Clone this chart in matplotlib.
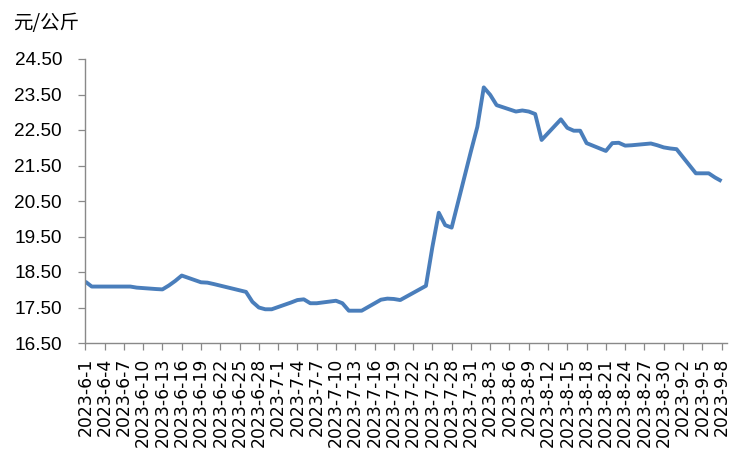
import matplotlib
matplotlib.use("Agg")
import matplotlib.pyplot as plt
import matplotlib.dates as mdates
import pandas as pd

# ---- data ----
dates = [
    "2023-06-01", "2023-06-02", "2023-06-05", "2023-06-06", "2023-06-07", "2023-06-08",
    "2023-06-09", "2023-06-12", "2023-06-13", "2023-06-14", "2023-06-15", "2023-06-16",
    "2023-06-19", "2023-06-20", "2023-06-21", "2023-06-26", "2023-06-27", "2023-06-28",
    "2023-06-29", "2023-06-30", "2023-07-03", "2023-07-04", "2023-07-05", "2023-07-06",
    "2023-07-07", "2023-07-10", "2023-07-11", "2023-07-12", "2023-07-13", "2023-07-14",
    "2023-07-17", "2023-07-18", "2023-07-19", "2023-07-20", "2023-07-21", "2023-07-24",
    "2023-07-25", "2023-07-26", "2023-07-27", "2023-07-28", "2023-07-31", "2023-08-01",
    "2023-08-02", "2023-08-03", "2023-08-04", "2023-08-07", "2023-08-08", "2023-08-09",
    "2023-08-10", "2023-08-11", "2023-08-14", "2023-08-15", "2023-08-16", "2023-08-17",
    "2023-08-18", "2023-08-21", "2023-08-22", "2023-08-23", "2023-08-24", "2023-08-25",
    "2023-08-28", "2023-08-29", "2023-08-30", "2023-08-31", "2023-09-01", "2023-09-04",
    "2023-09-05", "2023-09-06", "2023-09-07", "2023-09-08",
]
prices = [
    18.23, 18.09, 18.09, 18.09, 18.09, 18.09,
    18.06, 18.02, 18.01, 18.12, 18.25, 18.40,
    18.21, 18.20, 18.16, 17.94, 17.66, 17.50,
    17.45, 17.45, 17.64, 17.71, 17.73, 17.62,
    17.62, 17.69, 17.62, 17.41, 17.41, 17.41,
    17.72, 17.75, 17.74, 17.71, 17.81, 18.11,
    19.20, 20.17, 19.82, 19.75, 21.90, 22.59,
    23.70, 23.49, 23.20, 23.02, 23.05, 23.02,
    22.95, 22.22, 22.80, 22.56, 22.48, 22.48,
    22.13, 21.91, 22.13, 22.14, 22.06, 22.07,
    22.12, 22.07, 22.01, 21.98, 21.96, 21.28,
    21.28, 21.28, 21.16, 21.06,
]
tick_dates = [
    "2023-06-01", "2023-06-04", "2023-06-07", "2023-06-10", "2023-06-13", "2023-06-16",
    "2023-06-19", "2023-06-22", "2023-06-25", "2023-06-28", "2023-07-01", "2023-07-04",
    "2023-07-07", "2023-07-10", "2023-07-13", "2023-07-16", "2023-07-19", "2023-07-22",
    "2023-07-25", "2023-07-28", "2023-07-31", "2023-08-03", "2023-08-06", "2023-08-09",
    "2023-08-12", "2023-08-15", "2023-08-18", "2023-08-21", "2023-08-24", "2023-08-27",
    "2023-08-30", "2023-09-02", "2023-09-05", "2023-09-08",
]
tick_labels = [
    "2023-6-1", "2023-6-4", "2023-6-7", "2023-6-10", "2023-6-13", "2023-6-16",
    "2023-6-19", "2023-6-22", "2023-6-25", "2023-6-28", "2023-7-1", "2023-7-4",
    "2023-7-7", "2023-7-10", "2023-7-13", "2023-7-16", "2023-7-19", "2023-7-22",
    "2023-7-25", "2023-7-28", "2023-7-31", "2023-8-3", "2023-8-6", "2023-8-9",
    "2023-8-12", "2023-8-15", "2023-8-18", "2023-8-21", "2023-8-24", "2023-8-27",
    "2023-8-30", "2023-9-2", "2023-9-5", "2023-9-8",
]
y_ticks = [16.5, 17.5, 18.5, 19.5, 20.5, 21.5, 22.5, 23.5, 24.5]
unit_label = "元/公斤"

# ---- plot ----
W, H = 749, 451
fig = plt.figure(figsize=(W / 100, H / 100), dpi=100)
ax = fig.add_axes([85 / W, 1 - 343 / H, (726.7 - 85) / W, (343 - 59) / H])

x = pd.to_datetime(dates)
ax.plot(x, prices, color="#4A7EBB", linewidth=2.8, solid_joinstyle="round",
        solid_capstyle="butt")

xt = pd.to_datetime(tick_dates)
ax.set_xticks(mdates.date2num(xt))
ax.set_xticklabels(tick_labels, rotation=90, family="DejaVu Sans", fontsize=12.4)
x0 = mdates.date2num(pd.Timestamp("2023-06-01"))
ax.set_xlim(x0 - 0.05, x0 + 99.8)

ax.set_ylim(16.5, 24.5)
ax.set_yticks(y_ticks)
ax.set_yticklabels([f"{v:.2f}" for v in y_ticks], family="Liberation Sans", fontsize=13.7)

gray = "#898989"
for s in ["top", "right"]:
    ax.spines[s].set_visible(False)
for s in ["left", "bottom"]:
    ax.spines[s].set_color(gray)
    ax.spines[s].set_linewidth(1.0)
ax.tick_params(axis="y", direction="out", length=5, width=0.9, color=gray, pad=11.5,
               labelcolor="#000000")
ax.tick_params(axis="x", direction="out", length=5, width=0.9, color=gray, pad=5.5,
               labelcolor="#000000")

fig.text(13 / W, 1 - 24 / H, unit_label, family=["Noto Sans CJK SC", "DejaVu Sans"],
         fontsize=14, va="center", ha="left")

fig.savefig("out.png", dpi=100)
